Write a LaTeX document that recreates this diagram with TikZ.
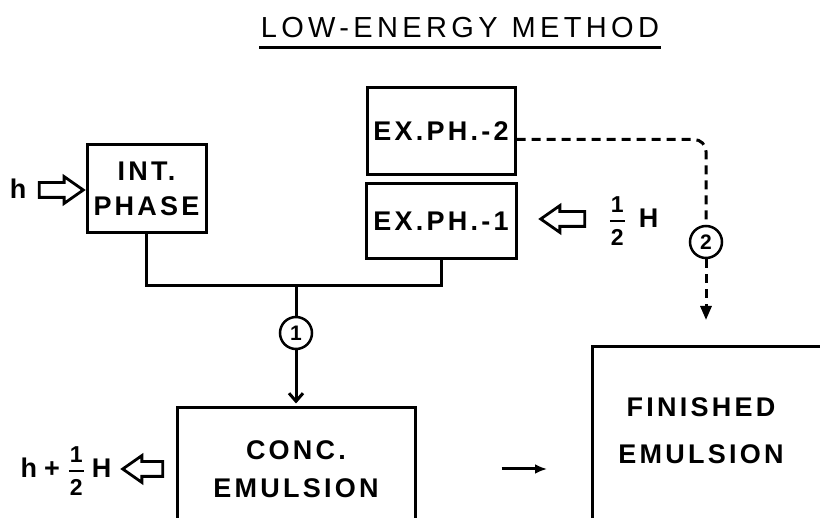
\documentclass[tikz,border=0pt]{standalone}
\usepackage{amsmath}
\usepackage{fontspec}
\setmainfont{Liberation Sans}
\newfontfamily\boxfont[LetterSpace=12]{Liberation Sans}
\newfontfamily\titlefont[LetterSpace=15]{Liberation Sans}
\usetikzlibrary{positioning, arrows.meta, shapes.arrows}

\newcommand{\digitfont}{\fontsize{23}{23}\selectfont\bfseries}
\newcommand{\halfof}{\ensuremath{\vcenter{\offinterlineskip\digitfont
  \halign{\hfil##\hfil\cr 1\cr\noalign{\kern7pt}\rule{15pt}{2.5pt}\cr\noalign{\kern7pt}2\cr}}}}

\begin{document}
\begin{tikzpicture}[
    x=1pt, y=-1pt, line width=3pt,
    box/.style={draw, rectangle, line width=3pt, inner sep=0pt, align=center, font=\boxfont\bfseries\fontsize{27}{32}\selectfont},
    boxtext/.style={inner sep=0pt, align=center, font=\boxfont\bfseries\fontsize{27}{32}\selectfont},
    lab/.style={inner sep=0pt, font=\bfseries\fontsize{27}{32}\selectfont},
    circ/.style={draw, circle, line width=2.5pt, minimum size=32pt, inner sep=0pt, font=\bfseries\fontsize{21}{21}\selectfont},
    hollow/.style={draw, single arrow, line width=2.8pt, inner sep=6pt, minimum height=44pt, single arrow head extend=6pt, single arrow tip angle=70},
    arrow/.style={-{Straight Barb[length=8pt,width=14pt]}},
    dashline/.style={dash pattern=on 9pt off 6pt, line width=3pt}
]
    \useasboundingbox (0,0) rectangle (820,518);
    \clip (0,0) rectangle (820,518);

    % Title
    \node[font=\titlefont\fontsize{29}{34}\selectfont, anchor=base, inner sep=0pt] (title) at (460,38) {LOW-ENERGY\hspace{14pt}METHOD};
    \draw[line width=3pt] ([yshift=-10pt]title.base west) -- ([yshift=-10pt]title.base east);

    % Phases
    \node[box, minimum width=119pt, minimum height=88pt] (int) at (146.5,189) {INT.\\[2.6pt]PHASE};
    \node[box, minimum width=148pt, minimum height=87pt] (ex2) at (441,131.5) {\raisebox{-5pt}{EX.PH.-2}};
    \node[box, minimum width=150pt, minimum height=75pt, below=6pt of ex2] (ex1) {EX.PH.-1};

    % Emulsions
    \node[box, minimum width=238pt, minimum height=122pt] (conc) at (296,469) {CONC.\\[5.6pt]EMULSION};
    \node[box, minimum width=300pt, minimum height=250pt, anchor=north west] (fin) at (591,345) {};
    \node[boxtext] (fintext) at (701,431) {FINISHED\\[14.6pt]EMULSION};

    % Steps
    \node[circ] (c1) at (296,333) {1};
    \node[circ] (c2) at (706,242) {2};

    % Energy in and out
    \node[lab] (hin) at (18,189) {h};
    \node[hollow] (harrow) at (56,190) {};
    \node[hollow, shape border rotate=180] (Harrow) at (568,219) {};
    \node[lab] (halfH) at (634,221) {\halfof\hspace{14pt}H};
    \node[hollow, shape border rotate=180, minimum height=40pt] (sumarrow) at (148,469) {};
    \node[lab] (hsum) at (66,471) {h\hspace{7pt}+\hspace{9pt}\halfof\hspace{8pt}H};

    % Connectors
    \coordinate (junc) at (296,286);
    \draw (int.south) |- (junc) -| (ex1.south);
    \draw (junc) -- (c1);
    \draw[arrow, shorten >=3pt] (c1) -- (conc);
    \draw[dashline, rounded corners=12pt] ([yshift=-8pt]ex2.east) -| (c2);
    \draw[dashline, -{Triangle[length=14pt,width=11pt]}, shorten >=25pt] (c2) -- (c2 |- fin.north);
    \draw[-{Latex[length=12pt,width=10pt]}, shorten <=85pt, shorten >=44pt] (conc.east) -- (conc.east -| fin.west);
\end{tikzpicture}
\end{document}
